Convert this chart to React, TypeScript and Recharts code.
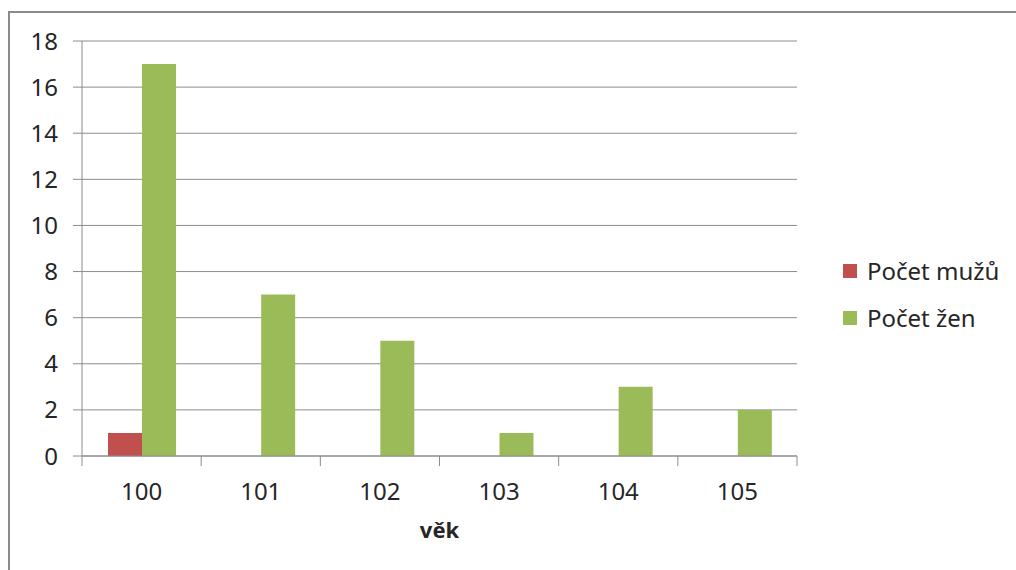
import React from 'react';
import { Bar, BarChart, CartesianGrid, XAxis, YAxis } from 'recharts';

const ages = ['100', '101', '102', '103', '104', '105'];
const men = [1, 0, 0, 0, 0, 0];
const women = [17, 7, 5, 1, 3, 2];
const yTicks = [0, 2, 4, 6, 8, 10, 12, 14, 16, 18];

const data = ages.map((age, i) => ({ age, men: men[i], women: women[i] }));

const RED = '#C0504D';
const GREEN = '#9BBB59';
const GRID = '#8c8c8c';
const TEXT = '#262626';
const FONT = '"Noto Sans", "Open Sans", sans-serif';

// category tick: label at the centre, tick marks on the band edges (Excel style)
const AgeTick = (props: any) => {
  const { x, y, payload, index } = props;
  const half = payload.offset || 0;
  return (
    <g>
      <line x1={x - half} x2={x - half} y1={y - 8} y2={y + 2} stroke={GRID} />
      {index === ages.length - 1 && (
        <line x1={x + half} x2={x + half} y1={y - 8} y2={y + 2} stroke={GRID} />
      )}
      <text x={x} y={y + 36} textAnchor="middle" fill={TEXT} fontSize={24} fontFamily={FONT}>
        {payload.value}
      </text>
    </g>
  );
};

const LegendBox = () => (
  <div style={{ position: 'absolute', left: 843, top: 247, fontFamily: FONT, fontSize: 24, color: TEXT }}>
    {[
      { name: 'Počet mužů', color: RED },
      { name: 'Počet žen', color: GREEN },
    ].map((s) => (
      <div key={s.name} style={{ display: 'flex', alignItems: 'center', height: 47, whiteSpace: 'nowrap' }}>
        <span style={{ width: 14, height: 14, background: s.color, marginRight: 10 }} />
        {s.name}
      </div>
    ))}
  </div>
);

export default function App() {
  return (
    <div style={{ position: 'fixed', left: 0, top: 0, width: 1016, height: 570, background: '#fff', overflow: 'hidden' }}>
      <div
        style={{
          position: 'absolute',
          left: 8,
          top: 11,
          width: 1040,
          height: 600,
          border: '2px solid #8a8a8a',
          boxSizing: 'border-box',
        }}
      />
      <div style={{ position: 'absolute', left: 0, top: 0 }}>
        <BarChart
          width={1016}
          height={570}
          data={data}
          margin={{ top: 41, right: 219, bottom: 0, left: 0 }}
          barCategoryGap={26}
          barGap={0}
        >
          <CartesianGrid vertical={false} stroke={GRID} />
          <XAxis
            dataKey="age"
            height={114}
            axisLine={{ stroke: GRID }}
            tickLine={false}
            tick={<AgeTick />}
            interval={0}
            label={{
              value: 'věk',
              position: 'insideBottom',
              offset: 32,
              fill: TEXT,
              fontSize: 22,
              fontWeight: 700,
              fontFamily: FONT,
            }}
          />
          <YAxis
            width={82}
            domain={[0, 18]}
            ticks={yTicks}
            interval={0}
            axisLine={{ stroke: GRID }}
            tickLine={{ stroke: GRID }}
            tickSize={9}
            tickMargin={15}
            tick={{ fill: TEXT, fontSize: 24, fontFamily: FONT }}
          />
          <Bar dataKey="men" name="Počet mužů" fill={RED} isAnimationActive={false} />
          <Bar dataKey="women" name="Počet žen" fill={GREEN} isAnimationActive={false} />
        </BarChart>
      </div>
      <LegendBox />
    </div>
  );
}
